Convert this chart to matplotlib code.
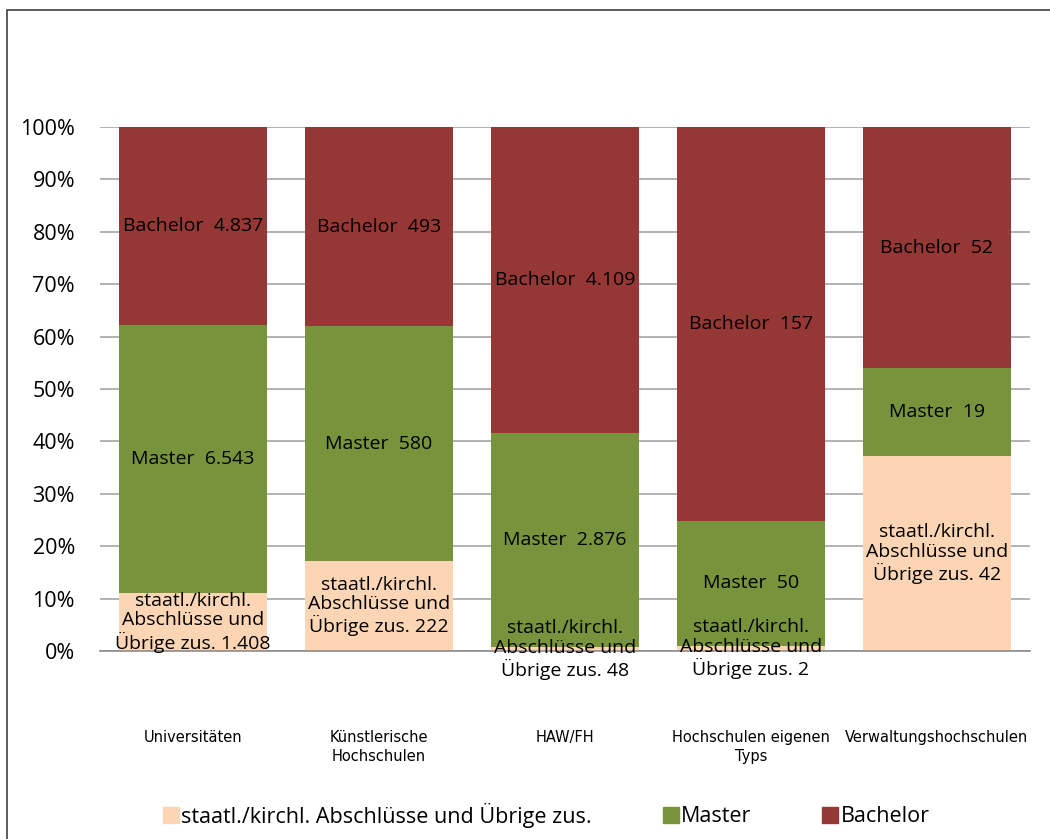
import matplotlib.pyplot as plt
import matplotlib.font_manager as fm
from matplotlib.patches import Rectangle
from matplotlib.lines import Line2D
import numpy as np

# ── Data ───────────────────────────────────────────────────────────────────────
categories = ["Universitäten", "Künstlerische\nHochschulen", "HAW/FH",
              "Hochschulen eigenen\nTyps", "Verwaltungshochschulen"]
staatl = [1408, 222, 48, 2, 42]
master = [6543, 580, 2876, 50, 19]
bachelor = [4837, 493, 4109, 157, 52]

series_names = ["staatl./kirchl. Abschlüsse und Übrige zus.", "Master", "Bachelor"]
label_prefix = ["staatl./kirchl.\nAbschlüsse und\nÜbrige zus. ", "Master  ", "Bachelor  "]

C_STAATL = "#FCD5B5"
C_MASTER = "#77933C"
C_BACH = "#953735"
colors = [C_STAATL, C_MASTER, C_BACH]

FONT = "Open Sans"
names = {f.name for f in fm.fontManager.ttflist}
NARROW = "Liberation Sans Narrow" if "Liberation Sans Narrow" in names else "DejaVu Sans"


def de(n):
    return f"{n:,}".replace(",", ".")


counts = np.array([staatl, master, bachelor], dtype=float)
totals = counts.sum(axis=0)
pct = counts / totals * 100

fig = plt.figure(figsize=(10.5, 8.39), dpi=100)
fig.patches.append(Rectangle((7 / 1050, -0.1), 1.2, 1 - 10 / 839 + 0.1,
                             transform=fig.transFigure, fill=False,
                             edgecolor="#404040", lw=1.2))
ax = fig.add_axes([100 / 1050, 1 - 651 / 839, 930 / 1050, 524 / 839])

x = np.arange(len(categories))
bottom = np.zeros(len(categories))
for i in range(3):
    ax.bar(x, pct[i], bottom=bottom, width=0.8, color=colors[i], zorder=3)
    for j in range(len(categories)):
        ax.text(x[j], bottom[j] + pct[i][j] / 2, label_prefix[i] + de(int(counts[i][j])),
                ha="center", va="center", fontsize=14, family=FONT,
                linespacing=1.12, zorder=5, color="black")
    bottom += pct[i]

ax.set_xlim(-0.5, len(categories) - 0.5)
ax.set_ylim(0, 100)
ax.set_yticks(np.arange(0, 101, 10))
ax.set_yticklabels([f"{v}%" for v in range(0, 101, 10)], family=FONT, fontsize=15.5)
ax.yaxis.grid(True, color="#a6a6a6", lw=1.2, zorder=0)
ax.tick_params(axis="y", length=0, pad=18)
ax.set_xticks(x)
ax.set_xticklabels(categories, family=NARROW, fontsize=10.5, linespacing=1.3)
ax.tick_params(axis="x", length=0, pad=57)
for s in ["top", "right", "left"]:
    ax.spines[s].set_visible(False)
ax.spines["bottom"].set_color("#8c8c8c")
ax.spines["bottom"].set_linewidth(1.2)
ax.spines["bottom"].set_zorder(4)

handles = [Line2D([], [], marker="s", ls="", markersize=11, color=c) for c in colors]
fig.legend(handles, series_names, loc="center", bbox_to_anchor=(0.519, 1 - 815 / 839),
           ncol=3, frameon=False, prop={"family": FONT, "size": 15.5},
           handletextpad=0.0, columnspacing=3.15, handlelength=1.0)

fig.savefig("out.png", dpi=100, facecolor="white")
